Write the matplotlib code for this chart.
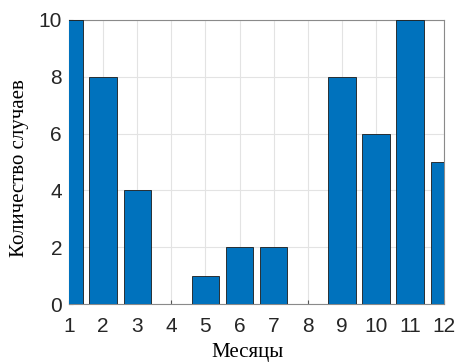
import matplotlib
matplotlib.use("Agg")
from matplotlib import pyplot as plt

months = [1, 2, 3, 4, 5, 6, 7, 8, 9, 10, 11, 12]
cases = [10, 8, 4, 0, 1, 2, 2, 0, 8, 6, 10, 5]

fig = plt.figure(figsize=(4.57, 3.62), dpi=100)
ax = fig.add_axes([0.151, 0.160, 0.821, 0.785])

ax.bar(months, cases, width=0.8, color="#0072BD", edgecolor="#1a1a1a", linewidth=0.6, zorder=3)

ax.set_xlim(1, 12)
ax.set_ylim(0, 10)
ax.set_xticks(months)
ax.set_yticks(range(0, 11, 2))
ax.grid(True, color="#e3e3e3", linewidth=0.8, zorder=0)
ax.tick_params(direction="in", length=3, color="#555555", labelsize=15)
ax.tick_params(axis="x", pad=9)
ax.tick_params(axis="y", pad=5)
for lab in ax.get_xticklabels() + ax.get_yticklabels():
    lab.set_family("Liberation Sans")
    lab.set_color("#262626")
for s in ax.spines.values():
    s.set_color("#8a8a8a")
    s.set_linewidth(0.8)

ax.set_xlabel("Месяцы", family="Liberation Serif", fontsize=15)
ax.set_ylabel("Количество случаев", family="Liberation Serif", fontsize=15)
ax.xaxis.set_label_coords(0.476, -0.138)
ax.yaxis.set_label_coords(-0.131, 0.479)
ax.yaxis.label.set_va("center")

fig.savefig("out.png", dpi=100)
